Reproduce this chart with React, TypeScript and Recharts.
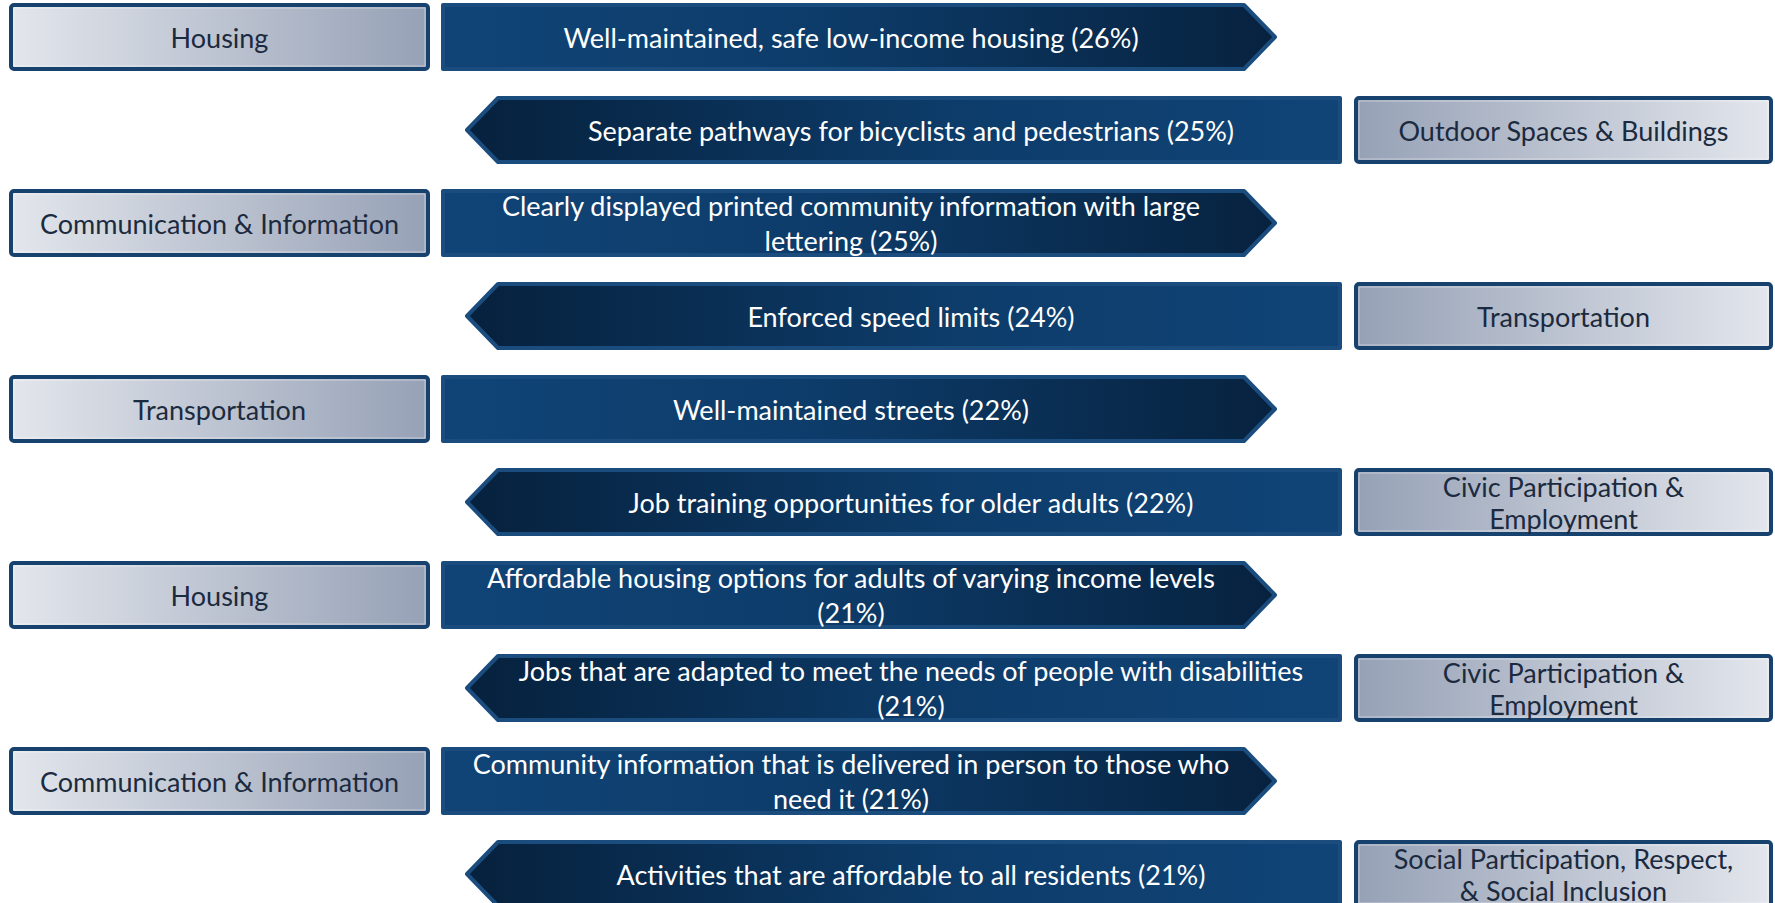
import { BarChart, Bar, XAxis, YAxis } from 'recharts'

// one row per priority, top to bottom
const categories = [
  'Housing',
  'Outdoor Spaces & Buildings',
  'Communication & Information',
  'Transportation',
  'Transportation',
  'Civic Participation &\nEmployment',
  'Housing',
  'Civic Participation &\nEmployment',
  'Communication & Information',
  'Social Participation, Respect,\n& Social Inclusion',
]

const items = [
  'Well-maintained, safe low-income housing',
  'Separate pathways for bicyclists and pedestrians',
  'Clearly displayed printed community information with large\nlettering',
  'Enforced speed limits',
  'Well-maintained streets',
  'Job training opportunities for older adults',
  'Affordable housing options for adults of varying income levels\n',
  'Jobs that are adapted to meet the needs of people with disabilities\n',
  'Community information that is delivered in person to those who\nneed it',
  'Activities that are affordable to all residents',
]

const shares = [26, 25, 25, 24, 22, 22, 21, 21, 21, 21]

// which side the category box sits on
const sides = ['left', 'right', 'left', 'right', 'left', 'right', 'left', 'right', 'left', 'right']

const rows = categories.map((c, i) => ({
  rank: i + 1,
  category: c,
  item: items[i],
  share: shares[i],
  side: sides[i],
  span: 1,
}))

const W = 1775
const FONT = 'Lato, sans-serif'

function itemLines(item: string, share: number) {
  const lines = item.split('\n')
  const last = lines.length - 1
  lines[last] = lines[last] ? `${lines[last]} (${share}%)` : `(${share}%)`
  return lines
}

function MultiText({ lines, x, y, gap, fill }: { lines: string[]; x: number; y: number; gap: number; fill: string }) {
  const start = y - ((lines.length - 1) * gap) / 2
  return (
    <text x={x} textAnchor="middle" fill={fill} fontFamily={FONT} fontSize={27}>
      {lines.map((l, i) => (
        <tspan key={i} x={x} y={start + i * gap} dominantBaseline="central">{l}</tspan>
      ))}
    </text>
  )
}

function RowShape(props: any) {
  const { x, y, width, height, payload } = props
  const k = width / W
  const px = (v: number) => x + v * k
  const top = y + 2
  const bot = y + height - 2
  const mid = y + height / 2
  const left = payload.side === 'left'

  const boxX0 = left ? px(11) : px(1356)
  const boxX1 = left ? px(428) : px(1771)
  const boxCx = (boxX0 + boxX1) / 2

  let arrow: string
  let textCx: number
  if (left) {
    const a0 = px(443), a1 = px(1244), tip = px(1275)
    arrow = `${a0},${top} ${a1},${top} ${tip},${mid} ${a1},${bot} ${a0},${bot}`
    textCx = px(851)
  } else {
    const a0 = px(1340), a1 = px(498), tip = px(467)
    arrow = `${a0},${top} ${a1},${top} ${tip},${mid} ${a1},${bot} ${a0},${bot}`
    textCx = px(911)
  }

  return (
    <g>
      <rect x={boxX0} y={top} width={boxX1 - boxX0} height={bot - top} rx={3}
        fill={left ? 'url(#boxL)' : 'url(#boxR)'} stroke="#17426e" strokeWidth={4} />
      <rect x={boxX0 + 3} y={top + 3} width={boxX1 - boxX0 - 6} height={bot - top - 6}
        fill="none" stroke="rgba(255,255,255,0.45)" strokeWidth={1} />
      <MultiText lines={payload.category.split('\n')} x={boxCx} y={mid} gap={32} fill="#1b2a3e" />
      <polygon points={arrow} fill={left ? 'url(#arrowR)' : 'url(#arrowL)'}
        stroke="#1b4c7e" strokeWidth={4} strokeLinejoin="round" />
      <MultiText lines={itemLines(payload.item, payload.share)} x={textCx} y={mid} gap={35} fill="#ffffff" />
    </g>
  )
}

export default function App() {
  return (
    <div style={{ position: 'absolute', left: 0, top: 0, width: W, height: 903, overflow: 'hidden', background: '#fff' }}>
      <div style={{ position: 'absolute', left: 0, top: -10 }}>
        <BarChart width={W} height={930} data={rows} layout="vertical" margin={{ top: 0, right: 0, bottom: 0, left: 0 }}>
          <defs>
            <linearGradient id="boxL" x1="0" y1="0" x2="1" y2="0">
              <stop offset="0%" stopColor="#e3e6ec" />
              <stop offset="100%" stopColor="#96a1b6" />
            </linearGradient>
            <linearGradient id="boxR" x1="0" y1="0" x2="1" y2="0">
              <stop offset="0%" stopColor="#96a1b6" />
              <stop offset="100%" stopColor="#e3e6ec" />
            </linearGradient>
            <linearGradient id="arrowR" x1="0" y1="0" x2="1" y2="0">
              <stop offset="0%" stopColor="#104477" />
              <stop offset="45%" stopColor="#0d3c6a" />
              <stop offset="100%" stopColor="#07223f" />
            </linearGradient>
            <linearGradient id="arrowL" x1="0" y1="0" x2="1" y2="0">
              <stop offset="0%" stopColor="#06213d" />
              <stop offset="55%" stopColor="#0d3c6a" />
              <stop offset="100%" stopColor="#104477" />
            </linearGradient>
          </defs>
          <XAxis type="number" domain={[0, 1]} hide />
          <YAxis type="category" dataKey="rank" hide />
          <Bar dataKey="span" barSize={68} shape={<RowShape />} isAnimationActive={false} />
        </BarChart>
      </div>
    </div>
  )
}
